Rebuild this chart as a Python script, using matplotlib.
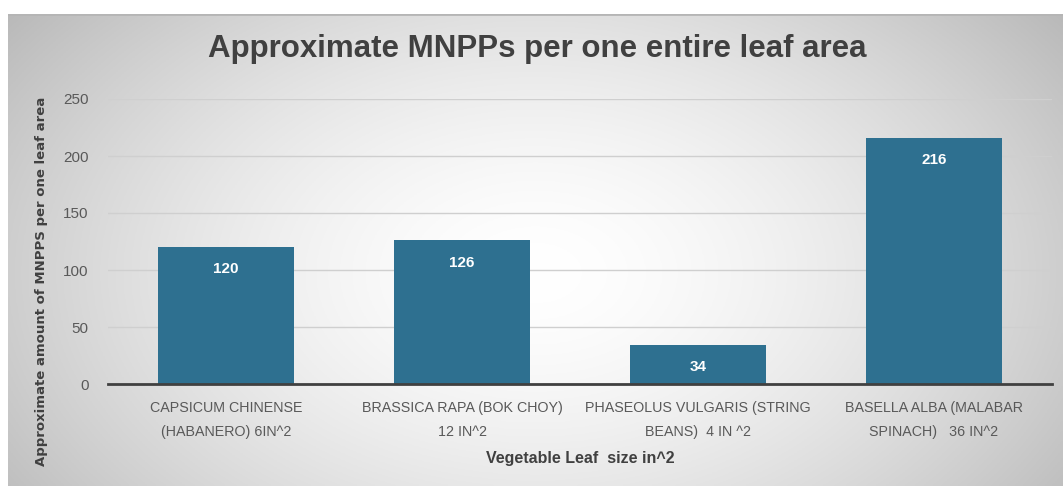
import numpy as np
import matplotlib
matplotlib.use("Agg")
import matplotlib.pyplot as plt

categories = [
    "CAPSICUM CHINENSE\n(HABANERO) 6IN^2",
    "BRASSICA RAPA (BOK CHOY)\n12 IN^2",
    "PHASEOLUS VULGARIS (STRING\nBEANS)  4 IN ^2",
    "BASELLA ALBA (MALABAR\nSPINACH)   36 IN^2",
]
values = [120, 126, 34, 216]
y_ticks = [0, 50, 100, 150, 200, 250]

W, H = 1063, 486
fig = plt.figure(figsize=(W / 100, H / 100), dpi=100)
fig.patch.set_facecolor("white")

# background panel with a soft radial gradient
bg = fig.add_axes([8 / W, 0, 1 - 8 / W, (H - 14) / H])
yy, xx = np.mgrid[0:1:200j, 0:1:400j]
r = np.sqrt(((xx - 0.5) / 0.62) ** 2 + ((yy - 0.45) / 0.9) ** 2)
shade = 1 - 0.27 * np.clip(r, 0, 1.2) ** 1.6
bg.imshow(np.dstack([shade] * 3), aspect="auto", extent=[0, 1, 0, 1], origin="lower")
bg.axhline(1, color="#b5b5b5", lw=2)
bg.axis("off")

ax = fig.add_axes([108 / W, 102 / H, 944 / W, 285 / H])
ax.patch.set_alpha(0)
x = np.arange(len(categories))
bars = ax.bar(x, values, width=0.58, color="#2E7090", zorder=3)
for b, v in zip(bars, values):
    ax.annotate(str(v), (b.get_x() + b.get_width() / 2, v), xytext=(0, -16),
                textcoords="offset points", ha="center", va="center",
                color="white", fontweight="bold", fontsize=11, family="Liberation Sans")

ax.set_xlim(-0.5, len(categories) - 0.5)
ax.set_ylim(0, 250)
ax.set_yticks(y_ticks)
ax.yaxis.grid(True, color="#cfcfcf", lw=1)
ax.set_axisbelow(True)
for s in ["top", "right", "left"]:
    ax.spines[s].set_visible(False)
ax.spines["bottom"].set_color("#404040")
ax.spines["bottom"].set_linewidth(2)
ax.spines["bottom"].set_zorder(4)
ax.tick_params(length=0)
ax.tick_params(axis="y", labelsize=11, labelcolor="#595959", pad=14)
ax.set_yticklabels([str(t) for t in y_ticks], family="Liberation Sans")
ax.set_xticks(x)
ax.set_xticklabels(categories, family="Liberation Sans", fontsize=10.3, color="#595959",
                   linespacing=1.9)
ax.tick_params(axis="x", pad=12)

ax.set_xlabel("Vegetable Leaf  size in^2", family="Liberation Sans", fontsize=11.5,
              fontweight="bold", color="#404040", labelpad=9)
ax.set_ylabel("Approximate amount of MNPPS per one leaf area", family="DejaVu Sans",
              fontsize=9.5, fontweight="bold", color="#404040")
ax.yaxis.set_label_coords(-0.064, 0.36)

fig.text(537 / W, 1 - 49 / H, "Approximate MNPPs per one entire leaf area",
         ha="center", va="center", family="Liberation Sans", fontweight="bold",
         fontsize=22.5, color="#404040")

fig.savefig("out.png", dpi=100)
